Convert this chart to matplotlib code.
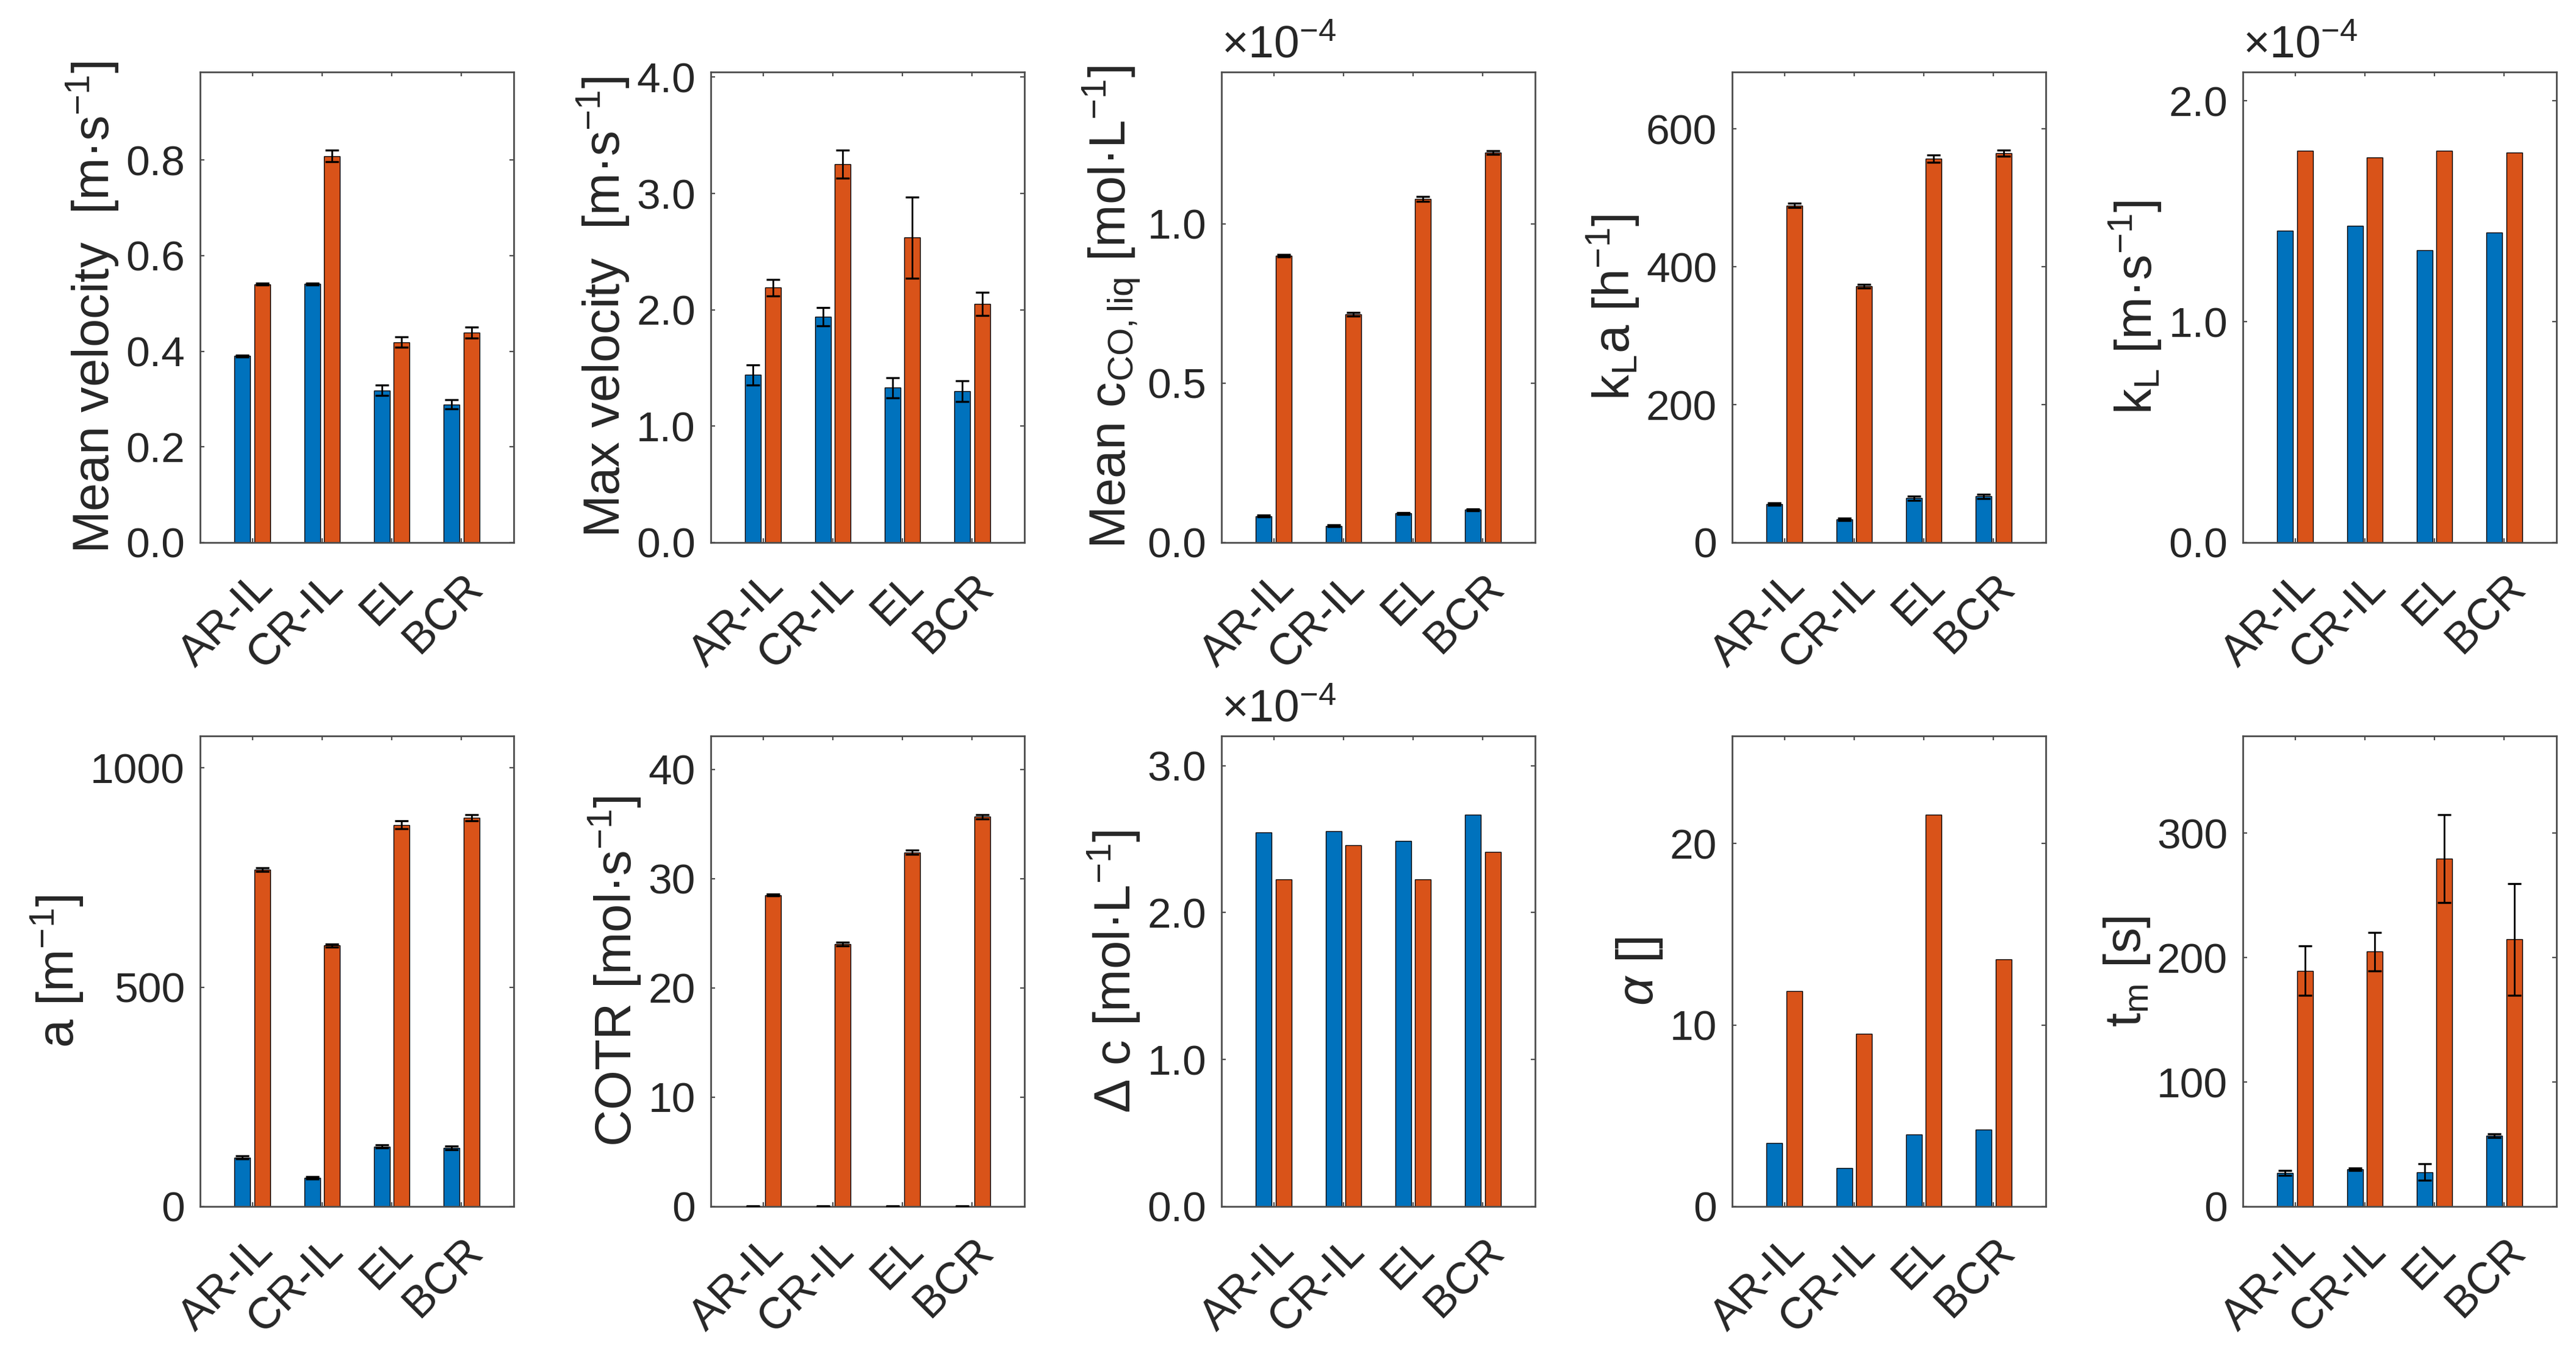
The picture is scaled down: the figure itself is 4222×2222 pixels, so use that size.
import numpy as np
import matplotlib
matplotlib.use("Agg")
import matplotlib.pyplot as plt
from matplotlib.ticker import FormatStrFormatter
from matplotlib.transforms import ScaledTranslation

plt.rcParams['font.family'] = ['Liberation Sans', 'DejaVu Sans']
plt.rcParams['mathtext.fontset'] = 'custom'
plt.rcParams['mathtext.rm'] = 'Liberation Sans'
plt.rcParams['mathtext.it'] = 'Liberation Sans:italic'

categories = ["AR-IL", "CR-IL", "EL", "BCR"]

# mean velocity [m/s]
mean_vel_a = [0.390, 0.541, 0.318, 0.289]
mean_vel_a_err = [0.002, 0.002, 0.011, 0.010]
mean_vel_b = [0.540, 0.808, 0.419, 0.439]
mean_vel_b_err = [0.002, 0.012, 0.011, 0.012]

# max velocity [m/s]
max_vel_a = [1.44, 1.94, 1.33, 1.30]
max_vel_a_err = [0.085, 0.08, 0.085, 0.09]
max_vel_b = [2.19, 3.25, 2.62, 2.05]
max_vel_b_err = [0.07, 0.12, 0.35, 0.10]

# mean CO concentration in liquid [mol/L]
c_co_a = [0.083e-4, 0.052e-4, 0.091e-4, 0.103e-4]
c_co_a_err = [0.003e-4, 0.003e-4, 0.003e-4, 0.003e-4]
c_co_b = [0.900e-4, 0.716e-4, 1.078e-4, 1.224e-4]
c_co_b_err = [0.004e-4, 0.006e-4, 0.008e-4, 0.006e-4]

# kLa [1/h]
kla_a = [55.8, 33.5, 64.5, 67.0]
kla_a_err = [2, 2, 3, 3]
kla_b = [489, 372, 557, 565]
kla_b_err = [3, 3, 5, 4]

# kL [m/s]
kl_a = [1.413e-4, 1.435e-4, 1.324e-4, 1.404e-4]
kl_b = [1.773e-4, 1.744e-4, 1.775e-4, 1.766e-4]

# interfacial area [1/m]
area_a = [112, 65, 137, 134]
area_a_err = [3, 3, 4, 4]
area_b = [768, 595, 870, 887]
area_b_err = [4, 4, 9, 7]

# COTR [mol/s]
cotr_a = [0.02, 0.02, 0.02, 0.02]
cotr_a_err = [0.05, 0.05, 0.05, 0.05]
cotr_b = [28.5, 24.0, 32.4, 35.67]
cotr_b_err = [0.1, 0.15, 0.2, 0.2]

# driving concentration difference [mol/L]
dc_a = [2.547e-4, 2.555e-4, 2.489e-4, 2.668e-4]
dc_b = [2.225e-4, 2.457e-4, 2.225e-4, 2.411e-4]

# alpha []
alpha_a = [3.50, 2.11, 3.98, 4.24]
alpha_b = [11.86, 9.53, 21.6, 13.6]

# mixing time [s]
tm_a = [26.9, 29.7, 27.6, 57.0]
tm_a_err = [2, 1, 6.6, 1.5]
tm_b = [189.5, 204.9, 279.7, 214.7]
tm_b_err = [20, 15.5, 35.5, 45]

panels = [
    (r"Mean velocity  [m·s$^{-1}$]", mean_vel_a, mean_vel_a_err, mean_vel_b, mean_vel_b_err, 1, [0, 0.2, 0.4, 0.6, 0.8], "%.1f"),
    (r"Max velocity  [m·s$^{-1}$]", max_vel_a, max_vel_a_err, max_vel_b, max_vel_b_err, 1, [0, 1, 2, 3, 4], "%.1f"),
    (r"Mean c$_{\mathrm{CO,liq}}$ [mol·L$^{-1}$]", c_co_a, c_co_a_err, c_co_b, c_co_b_err, 1e-4, [0, 0.5, 1.0], "%.1f"),
    (r"k$_{\mathrm{L}}$a [h$^{-1}$]", kla_a, kla_a_err, kla_b, kla_b_err, 1, [0, 200, 400, 600], "%d"),
    (r"k$_{\mathrm{L}}$ [m·s$^{-1}$]", kl_a, None, kl_b, None, 1e-4, [0, 1, 2], "%.1f"),
    (r"a [m$^{-1}$]", area_a, area_a_err, area_b, area_b_err, 1, [0, 500, 1000], "%d"),
    (r"COTR [mol·s$^{-1}$]", cotr_a, cotr_a_err, cotr_b, cotr_b_err, 1, [0, 10, 20, 30, 40], "%d"),
    (r"Δ c [mol·L$^{-1}$]", dc_a, None, dc_b, None, 1e-4, [0, 1, 2, 3], "%.1f"),
    (r"$\alpha$ []", alpha_a, None, alpha_b, None, 1, [0, 10, 20], "%d"),
    (r"t$_{\mathrm{m}}$ [s]", tm_a, tm_a_err, tm_b, tm_b_err, 1, [0, 100, 200, 300], "%d"),
]

blue = "#0072BD"
orange = "#D95319"
axis_col = "#4d4d4d"
text_col = "#262626"

W, H = 4222, 2222
fig = plt.figure(figsize=(W / 200, H / 200), dpi=200)

lefts = [328 + 837 * i for i in range(5)]
tops = [118, 1206]
aw, ah = 514, 771

x = np.arange(1, len(categories) + 1)
offset = 0.1429
bw = 0.2286
label_shift = ScaledTranslation(4 / 72, 0, fig.dpi_scale_trans)

for k, (label, a, a_err, b, b_err, scale, ticks, fmt) in enumerate(panels):
    r, c = divmod(k, 5)
    ax = fig.add_axes([lefts[c] / W, 1 - (tops[r] + ah) / H, aw / W, ah / H])
    av = np.array(a) / scale
    bv = np.array(b) / scale
    ae = np.zeros(4) if a_err is None else np.array(a_err) / scale
    be = np.zeros(4) if b_err is None else np.array(b_err) / scale

    ax.bar(x - offset, av, bw, color=blue, edgecolor="black", linewidth=0.5, zorder=2)
    ax.bar(x + offset, bv, bw, color=orange, edgecolor="black", linewidth=0.5, zorder=2)
    if a_err is not None:
        ax.errorbar(x - offset, av, yerr=ae, fmt="none", ecolor="black",
                    elinewidth=1.0, capsize=4, capthick=1.2, zorder=3)
    if b_err is not None:
        ax.errorbar(x + offset, bv, yerr=be, fmt="none", ecolor="black",
                    elinewidth=1.0, capsize=4, capthick=1.2, zorder=3)

    top = 1.2 * max(np.max(av + ae), np.max(bv + be))
    ax.set_ylim(0, top)
    ax.set_xlim(0.25, 4.75)
    ax.set_yticks(ticks)
    ax.yaxis.set_major_formatter(FormatStrFormatter(fmt))
    ax.set_xticks(x)
    ax.set_xticklabels(categories, rotation=45, ha="right", va="top",
                       rotation_mode="anchor")
    for t in ax.get_xticklabels():
        t.set_transform(t.get_transform() + label_shift)
    ax.tick_params(axis="both", direction="in", length=2.5, width=0.8,
                   color=axis_col, labelcolor=text_col,
                   top=True, right=True)
    ax.tick_params(axis="y", pad=9, labelsize=25)
    ax.tick_params(axis="x", pad=14, labelsize=26)
    for s in ax.spines.values():
        s.set_color(axis_col)
        s.set_linewidth(1.0)
    ax.set_ylabel(label, fontsize=30, color=text_col, labelpad=3)
    if scale != 1:
        ax.text(0.0, 1.012, r"$\times10^{-4}$", transform=ax.transAxes,
                ha="left", va="bottom", fontsize=27, color=text_col)

fig.savefig("out.png", dpi=200, facecolor="white")
